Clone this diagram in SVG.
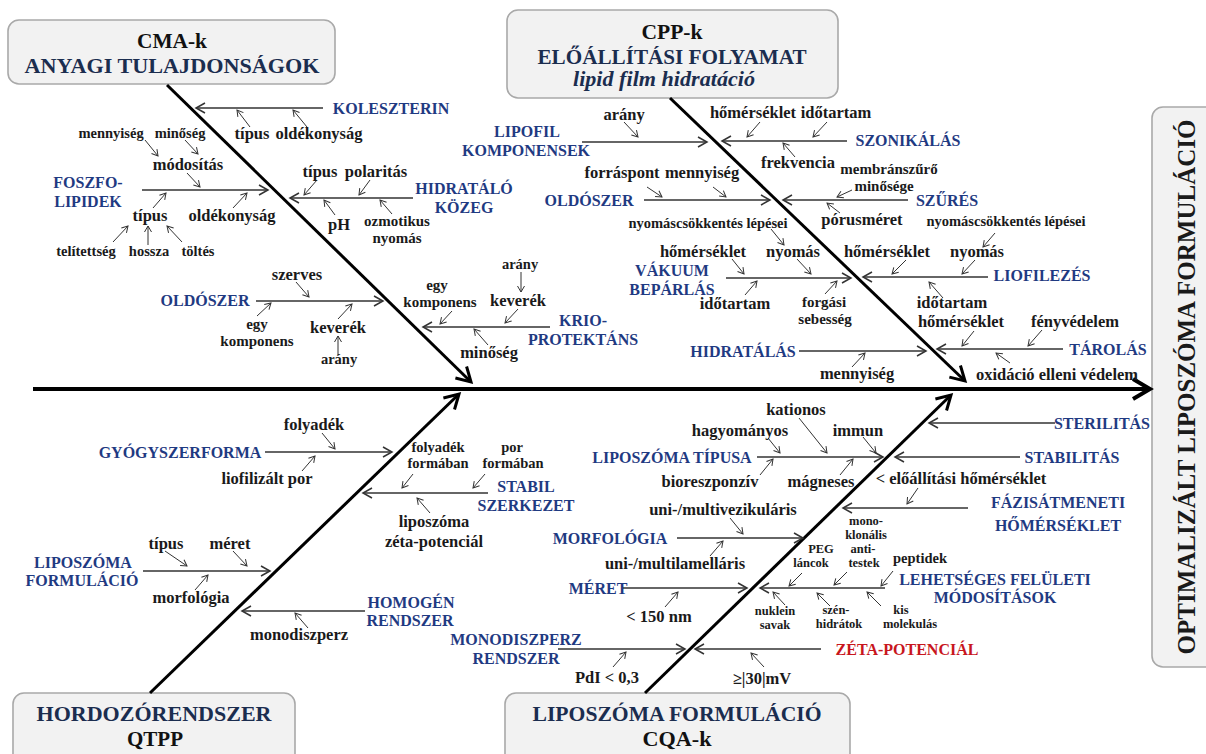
<svg xmlns="http://www.w3.org/2000/svg" width="1206" height="754" viewBox="0 0 1206 754">
<style>
text{font-family:"Liberation Serif","Times New Roman",serif;font-weight:bold;text-anchor:middle}
.bx{fill:#f2f2f2;stroke:#a9a9a9;stroke-width:1.6}
.tk{font-size:21px;fill:#111}
.tn{font-size:21px;fill:#1b2d4f}
.b{font-size:16px;fill:#1f3a82}
.r{font-size:16px;fill:#c8161d}
.l{font-size:16.5px;fill:#1a1a1a}
.m{font-size:15px;fill:#1a1a1a}
.s{font-size:14.5px;fill:#1a1a1a}
.xs{font-size:12.5px;fill:#1a1a1a}
.spine{stroke:#000;stroke-width:4;fill:none;marker-end:url(#ms)}
.bone{stroke:#000;stroke-width:3;fill:none;marker-end:url(#mb)}
.br{stroke:#333;stroke-width:1.6;fill:none;marker-end:url(#m2)}
.a{stroke:#333;stroke-width:1;fill:none;marker-end:url(#m1)}
</style>
<defs>
<marker id="m1" markerUnits="userSpaceOnUse" markerWidth="10" markerHeight="10" refX="6" refY="3.5" orient="auto" overflow="visible"><path d="M0,0 L6,3.5 L0,7" fill="none" stroke="#333" stroke-width="1"/></marker>
<marker id="m2" markerUnits="userSpaceOnUse" markerWidth="12" markerHeight="12" refX="9" refY="5" orient="auto" overflow="visible"><path d="M0,0 L9,5 L0,10" fill="none" stroke="#333" stroke-width="1.5"/></marker>
<marker id="mb" markerUnits="userSpaceOnUse" markerWidth="18" markerHeight="18" refX="14" refY="8" orient="auto" overflow="visible"><path d="M0,0 L14,8 L0,16" fill="none" stroke="#000" stroke-width="3"/></marker>
<marker id="ms" markerUnits="userSpaceOnUse" markerWidth="20" markerHeight="22" refX="17" refY="10" orient="auto" overflow="visible"><path d="M0,0 L17,10 L0,20" fill="none" stroke="#000" stroke-width="4"/></marker>
</defs>
<rect width="1206" height="754" fill="#fff"/>

<g id="box-cma"><rect class="bx" x="8" y="20" width="327" height="64" rx="11"/>
<text class="tk" x="172" y="48" textLength="70" lengthAdjust="spacingAndGlyphs">CMA-k</text>
<text class="tn" x="172" y="73" textLength="295" lengthAdjust="spacingAndGlyphs">ANYAGI TULAJDONSÁGOK</text></g>
<g id="box-cpp"><rect class="bx" x="507" y="10" width="331" height="88" rx="11"/>
<text class="tk" x="672" y="39" textLength="61" lengthAdjust="spacingAndGlyphs">CPP-k</text>
<text class="tn" x="672" y="64" textLength="269" lengthAdjust="spacingAndGlyphs">ELŐÁLLÍTÁSI FOLYAMAT</text>
<text class="tn" x="664" y="86" font-style="italic" font-size="18px" textLength="182" lengthAdjust="spacingAndGlyphs">lipid film hidratáció</text></g>
<g id="box-qtpp"><rect class="bx" x="13" y="693" width="282" height="75" rx="11"/>
<text class="tn" x="154" y="721" textLength="235" lengthAdjust="spacingAndGlyphs">HORDOZÓRENDSZER</text>
<text class="tk" x="155" y="746" textLength="56" lengthAdjust="spacingAndGlyphs">QTPP</text></g>
<g id="box-cqa"><rect class="bx" x="505" y="693" width="345" height="75" rx="11"/>
<text class="tn" x="677" y="721" textLength="289" lengthAdjust="spacingAndGlyphs">LIPOSZÓMA FORMULÁCIÓ</text>
<text class="tk" x="677" y="746" textLength="69" lengthAdjust="spacingAndGlyphs">CQA-k</text></g>
<g id="box-result"><rect class="bx" x="1152" y="107" width="80" height="560" rx="11"/>
<text x="0" y="0" transform="translate(1195,387) rotate(-90)" font-size="25px" fill="#1a1a1a" textLength="535" lengthAdjust="spacingAndGlyphs">OPTIMALIZÁLT LIPOSZÓMA FORMULÁCIÓ</text></g>

<g id="connectors">
<path class="spine" d="M33,389 L1150,389"/>
<path class="bone" d="M167,85 L471,382"/>
<path class="bone" d="M670,98 L965,381"/>
<path class="bone" d="M150,693 L459,394"/>
<path class="bone" d="M645,693 L951,395"/>
<path class="br" d="M323,108 L196,108"/>
<path class="br" d="M142,190 L268,190"/>
<path class="br" d="M413,198 L290,198"/>
<path class="br" d="M256,301 L383,301"/>
<path class="br" d="M550,327 L423,327"/>
<path class="br" d="M582,142 L707,142"/>
<path class="br" d="M847,141 L722,141"/>
<path class="br" d="M644,200 L770,200"/>
<path class="br" d="M908,200 L783,200"/>
<path class="br" d="M726,278 L851,278"/>
<path class="br" d="M988,277 L863,277"/>
<path class="br" d="M799,351 L926,351"/>
<path class="br" d="M1063,349 L937,349"/>
<path class="br" d="M265,452 L392,452"/>
<path class="br" d="M488,493 L363,493"/>
<path class="br" d="M143,571 L270,571"/>
<path class="br" d="M365,611 L242,611"/>
<path class="br" d="M1055,423 L929,423"/>
<path class="br" d="M1020,457 L895,457"/>
<path class="br" d="M968,508 L843,508"/>
<path class="br" d="M757,457 L883,457"/>
<path class="br" d="M677,538 L803,538"/>
<path class="br" d="M623,588 L747,588"/>
<path class="br" d="M885,588 L760,588"/>
<path class="br" d="M558,649 L685,649"/>
<path class="br" d="M821,649 L695,649"/>
<path class="a" d="M250,127 L237,110"/>
<path class="a" d="M307,127 L293,110"/>
<path class="a" d="M145,140 L158,156"/>
<path class="a" d="M185,140 L198,154"/>
<path class="a" d="M187,173 L200,187"/>
<path class="a" d="M153,208 L166,193"/>
<path class="a" d="M233,208 L247,193"/>
<path class="a" d="M113,242 L128,226"/>
<path class="a" d="M148,245 L148,226"/>
<path class="a" d="M182,242 L167,226"/>
<path class="a" d="M317,180 L304,195"/>
<path class="a" d="M370,180 L359,195"/>
<path class="a" d="M335,215 L324,200"/>
<path class="a" d="M392,214 L380,200"/>
<path class="a" d="M296,282 L309,297"/>
<path class="a" d="M257,316 L271,303"/>
<path class="a" d="M338,319 L352,304"/>
<path class="a" d="M338,355 L338,336"/>
<path class="a" d="M452,311 L440,324"/>
<path class="a" d="M518,309 L505,323"/>
<path class="a" d="M521,272 L521,292"/>
<path class="a" d="M488,345 L474,329"/>
<path class="a" d="M624,122 L638,137"/>
<path class="a" d="M760,122 L747,137"/>
<path class="a" d="M827,122 L813,137"/>
<path class="a" d="M795,157 L783,143"/>
<path class="a" d="M647,187 L662,197"/>
<path class="a" d="M713,187 L726,197"/>
<path class="a" d="M852,190 L837,197"/>
<path class="a" d="M840,213 L827,203"/>
<path class="a" d="M771,229 L784,245"/>
<path class="a" d="M732,259 L744,274"/>
<path class="a" d="M797,259 L811,274"/>
<path class="a" d="M745,295 L757,281"/>
<path class="a" d="M825,294 L837,281"/>
<path class="a" d="M995,233 L983,247"/>
<path class="a" d="M906,260 L892,274"/>
<path class="a" d="M975,260 L962,274"/>
<path class="a" d="M943,298 L929,282"/>
<path class="a" d="M974,331 L962,346"/>
<path class="a" d="M1042,330 L1028,346"/>
<path class="a" d="M1010,363 L996,353"/>
<path class="a" d="M852,367 L865,353"/>
<path class="a" d="M322,433 L335,449"/>
<path class="a" d="M302,471 L315,456"/>
<path class="a" d="M413,474 L402,488"/>
<path class="a" d="M485,474 L473,488"/>
<path class="a" d="M430,513 L417,498"/>
<path class="a" d="M165,551 L187,566"/>
<path class="a" d="M233,551 L247,566"/>
<path class="a" d="M195,590 L208,575"/>
<path class="a" d="M308,628 L295,613"/>
<path class="a" d="M918,488 L907,504"/>
<path class="a" d="M799,418 L827,453"/>
<path class="a" d="M768,438 L780,453"/>
<path class="a" d="M863,437 L876,453"/>
<path class="a" d="M760,475 L773,459"/>
<path class="a" d="M840,475 L853,459"/>
<path class="a" d="M730,518 L743,534"/>
<path class="a" d="M710,556 L723,541"/>
<path class="a" d="M665,607 L678,592"/>
<path class="a" d="M847,572 L834,585"/>
<path class="a" d="M802,573 L789,586"/>
<path class="a" d="M893,571 L881,586"/>
<path class="a" d="M785,605 L773,592"/>
<path class="a" d="M830,606 L817,593"/>
<path class="a" d="M881,606 L867,592"/>
<path class="a" d="M613,667 L626,652"/>
<path class="a" d="M764,667 L751,653"/>
</g>

<g id="koleszterin"><text class="b" x="391" y="114">KOLESZTERIN</text>
<text class="l" x="252" y="139">típus</text><text class="l" x="319" y="139">oldékonyság</text></g>
<g id="foszfolipidek"><text class="b" x="88" y="188">FOSZFO-</text><text class="b" x="88" y="207">LIPIDEK</text>
<text class="s" x="111" y="138">mennyiség</text><text class="s" x="180" y="138">minőség</text>
<text class="l" x="188" y="170">módosítás</text>
<text class="l" x="150" y="221">típus</text><text class="l" x="232" y="221">oldékonyság</text>
<text class="s" x="86" y="256">telítettség</text><text class="s" x="149" y="256">hossza</text><text class="s" x="198" y="256">töltés</text></g>
<g id="hidratalo-kozeg"><text class="b" x="464" y="194">HIDRATÁLÓ</text><text class="b" x="464" y="213">KÖZEG</text>
<text class="l" x="320" y="177">típus</text><text class="l" x="376" y="177">polaritás</text>
<text class="l" x="339" y="230">pH</text><text class="m" x="397" y="226">ozmotikus</text><text class="m" x="397" y="243">nyomás</text></g>
<g id="oldoszer-cma"><text class="b" x="205" y="306">OLDÓSZER</text>
<text class="l" x="297" y="280">szerves</text>
<text class="m" x="257" y="329">egy</text><text class="m" x="257" y="346">komponens</text>
<text class="l" x="338" y="333">keverék</text><text class="s" x="339" y="364">arány</text></g>
<g id="krioprotektans"><text class="b" x="583" y="326">KRIO-</text><text class="b" x="583" y="345">PROTEKTÁNS</text>
<text class="m" x="437" y="290">egy</text><text class="m" x="440" y="307">komponens</text>
<text class="l" x="518" y="306">keverék</text><text class="s" x="520" y="269">arány</text>
<text class="l" x="489" y="358">minőség</text></g>

<g id="lipofil"><text class="b" x="527" y="137">LIPOFIL</text><text class="b" x="526" y="156">KOMPONENSEK</text>
<text class="l" x="624" y="120">arány</text></g>
<g id="szonikalas"><text class="b" x="908" y="146">SZONIKÁLÁS</text>
<text class="l" x="753" y="118">hőmérséklet</text><text class="l" x="836" y="118">időtartam</text>
<text class="l" x="798" y="168">frekvencia</text></g>
<g id="oldoszer-cpp"><text class="b" x="589" y="206">OLDÓSZER</text>
<text class="l" x="622" y="178">forráspont</text><text class="l" x="702" y="178">mennyiség</text></g>
<g id="szures"><text class="b" x="947" y="206">SZŰRÉS</text>
<text class="m" x="889" y="174">membránszűrő</text><text class="m" x="884" y="191">minősége</text>
<text class="l" x="862" y="225">pórusméret</text></g>
<g id="vakuum"><text class="b" x="672" y="276">VÁKUUM</text><text class="b" x="672" y="295">BEPÁRLÁS</text>
<text class="s" x="708" y="228">nyomáscsökkentés lépései</text>
<text class="l" x="703" y="257">hőmérséklet</text><text class="l" x="793" y="257">nyomás</text>
<text class="l" x="735" y="309">időtartam</text><text class="m" x="824" y="307">forgási</text><text class="m" x="825" y="324">sebesség</text></g>
<g id="liofilezes"><text class="b" x="1042" y="281">LIOFILEZÉS</text>
<text class="s" x="1006" y="226">nyomáscsökkentés lépései</text>
<text class="l" x="887" y="257">hőmérséklet</text><text class="l" x="977" y="257">nyomás</text>
<text class="l" x="952" y="308">időtartam</text></g>
<g id="tarolas"><text class="b" x="1108" y="355">TÁROLÁS</text>
<text class="l" x="961" y="327">hőmérséklet</text><text class="l" x="1075" y="327">fényvédelem</text>
<text class="l" x="1057" y="380">oxidáció elleni védelem</text></g>
<g id="hidratalas"><text class="b" x="743" y="357">HIDRATÁLÁS</text>
<text class="l" x="857" y="379">mennyiség</text></g>

<g id="gyogyszerforma"><text class="b" x="180" y="458">GYÓGYSZERFORMA</text>
<text class="l" x="314" y="430">folyadék</text><text class="l" x="267" y="484">liofilizált por</text></g>
<g id="stabil-szerkezet"><text class="b" x="526" y="492">STABIL</text><text class="b" x="526" y="511">SZERKEZET</text>
<text class="s" x="438" y="452">folyadék</text><text class="s" x="438" y="468">formában</text>
<text class="s" x="512" y="452">por</text><text class="s" x="513" y="468">formában</text>
<text class="l" x="434" y="527">liposzóma</text><text class="l" x="434" y="547">zéta-potenciál</text></g>
<g id="liposzoma-formulacio"><text class="b" x="83" y="568">LIPOSZÓMA</text><text class="b" x="82" y="586">FORMULÁCIÓ</text>
<text class="l" x="166" y="549">típus</text><text class="l" x="230" y="549">méret</text>
<text class="l" x="191" y="603">morfológia</text></g>
<g id="homogen"><text class="b" x="411" y="608">HOMOGÉN</text><text class="b" x="410" y="626">RENDSZER</text>
<text class="l" x="299" y="640">monodiszperz</text></g>

<g id="sterilitas"><text class="b" x="1102" y="429">STERILITÁS</text></g>
<g id="stabilitas"><text class="b" x="1072" y="463">STABILITÁS</text></g>
<g id="fazisatmeneti"><text class="b" x="1058" y="508">FÁZISÁTMENETI</text><text class="b" x="1058" y="531">HŐMÉRSÉKLET</text>
<text class="l" x="961" y="484">&lt; előállítási hőmérséklet</text></g>
<g id="liposzoma-tipusa"><text class="b" x="672" y="463">LIPOSZÓMA TÍPUSA</text>
<text class="l" x="796" y="415">kationos</text>
<text class="l" x="740" y="436">hagyományos</text><text class="l" x="858" y="436">immun</text>
<text class="l" x="710" y="487">bioreszponzív</text><text class="l" x="821" y="487">mágneses</text></g>
<g id="morfologia"><text class="b" x="610" y="544">MORFOLÓGIA</text>
<text class="l" x="723" y="515">uni-/multivezikuláris</text>
<text class="l" x="675" y="569">uni-/multilamelláris</text></g>
<g id="meret"><text class="b" x="598" y="594">MÉRET</text>
<text class="l" x="659" y="622">&lt; 150 nm</text></g>
<g id="feluleti"><text class="b" x="995" y="585">LEHETSÉGES FELÜLETI</text><text class="b" x="995" y="603">MÓDOSÍTÁSOK</text>
<text class="xs" x="866" y="525">mono-</text><text class="xs" x="866" y="539">klonális</text><text class="xs" x="863" y="553">anti-</text><text class="xs" x="864" y="567">testek</text>
<text class="xs" x="821" y="553">PEG</text><text class="xs" x="811" y="567">láncok</text>
<text class="s" x="920" y="563">peptidek</text>
<text class="xs" x="775" y="615">nuklein</text><text class="xs" x="775" y="629">savak</text>
<text class="xs" x="836" y="614">szén-</text><text class="xs" x="839" y="628">hidrátok</text>
<text class="xs" x="901" y="614">kis</text><text class="xs" x="910" y="628">molekulás</text></g>
<g id="monodiszperz"><text class="b" x="516" y="645">MONODISZPERZ</text><text class="b" x="516" y="664">RENDSZER</text>
<text class="l" x="607" y="683">PdI &lt; 0,3</text></g>
<g id="zeta"><text class="r" x="907" y="655">ZÉTA-POTENCIÁL</text>
<text class="l" x="762" y="684">≥|30|mV</text></g>
</svg>
